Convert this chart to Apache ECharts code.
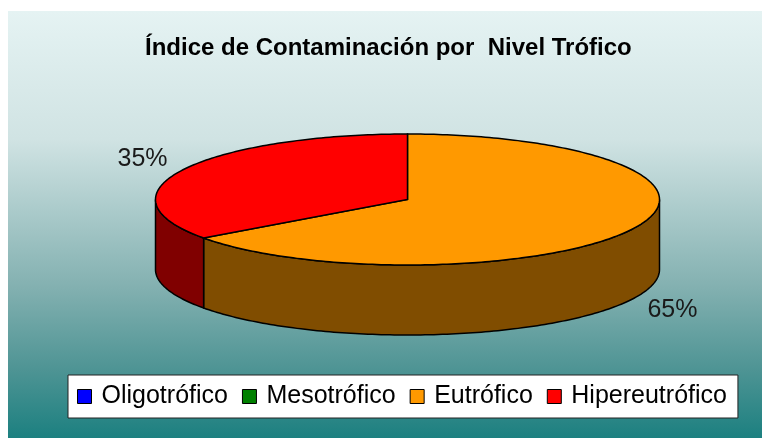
<!DOCTYPE html>
<html>
<head>
<meta charset="utf-8">
<script src="https://cdn.jsdelivr.net/npm/echarts@6/dist/echarts.min.js"></script>
<style>
  html, body { margin: 0; padding: 0; background: #fff; }
  #chart { width: 762px; height: 438px; }
</style>
</head>
<body>
<div id="chart"></div>
<script>
// datos del gráfico
const categories = ["Oligotrófico", "Mesotrófico", "Eutrófico", "Hipereutrófico"];
const values = [0, 0, 65, 35];
const topColors = ["#0000FF", "#008000", "#FF9900", "#FF0000"];
const sideColors = ["#000080", "#004000", "#804D00", "#800000"];
const titleText = "Índice de Contaminación por  Nivel Trófico";

// geometría del pastel 3D
const pie = { cx: 407.5, cy: 199.5, rx: 252, ry: 65.5, depth: 70 };

const total = values.reduce((a, b) => a + b, 0);

const point = (a, dy) => [
  pie.cx + pie.rx * Math.sin(a),
  pie.cy - pie.ry * Math.cos(a) + dy,
];

const arc = (a0, a1, dy) => {
  const pts = [];
  const n = Math.max(2, Math.ceil(((a1 - a0) * 180) / Math.PI));
  for (let i = 0; i <= n; i++) {
    pts.push(point(a0 + ((a1 - a0) * i) / n, dy));
  }
  return pts;
};

const renderSlice = (params, api) => {
  const idx = params.seriesIndex;
  const value = api.value(0);
  if (!value) return { type: "group", children: [] };

  const before = values.slice(0, idx).reduce((a, b) => a + b, 0);
  const a0 = (before / total) * Math.PI * 2;
  const a1 = ((before + value) / total) * Math.PI * 2;
  const children = [];

  // cara lateral visible (frente)
  const s = Math.max(a0, Math.PI / 2);
  const e = Math.min(a1, (Math.PI * 3) / 2);
  if (s < e) {
    const pts = arc(s, e, 0).concat(arc(s, e, pie.depth).reverse());
    children.push({
      type: "polygon",
      z2: 1,
      shape: { points: pts },
      style: { fill: sideColors[idx], stroke: "#000", lineWidth: 1.5 },
    });
  }

  // cara superior
  children.push({
    type: "polygon",
    z2: 10,
    shape: { points: [[pie.cx, pie.cy]].concat(arc(a0, a1, 0)) },
    style: { fill: topColors[idx], stroke: "#000", lineWidth: 1.5 },
  });

  // etiqueta de porcentaje
  const mid = (a0 + a1) / 2;
  const lx = pie.cx + pie.rx * 1.18 * Math.sin(mid);
  let ly = pie.cy - pie.ry * 1.35 * Math.cos(mid);
  if (Math.cos(mid) < 0) ly += pie.depth;
  children.push({
    type: "text",
    z2: 20,
    x: lx,
    y: ly,
    style: {
      text: Math.round((value / total) * 100) + "%",
      fill: "#1a1a1a",
      font: "25px 'Liberation Sans', Arial, sans-serif",
      align: "center",
      verticalAlign: "middle",
    },
  });

  return { type: "group", children };
};

const chart = echarts.init(document.getElementById("chart"), null, { renderer: "canvas" });

const option = {
  animation: false,
  backgroundColor: "#fff",
  graphic: {
    elements: [
      {
        type: "rect",
        z: -10,
        shape: { x: 8, y: 11, width: 754, height: 427 },
        style: {
          fill: new echarts.graphic.LinearGradient(0, 0, 0, 1, [
            { offset: 0, color: "#e5f3f3" },
            { offset: 0.3, color: "#d0e3e3" },
            { offset: 0.65, color: "#82b0b0" },
            { offset: 0.84, color: "#4e9494" },
            { offset: 1, color: "#1c8080" },
          ]),
        },
      },
    ],
  },
  title: {
    text: titleText,
    left: 145,
    top: 36,
    padding: 0,
    textStyle: {
      fontFamily: "'Liberation Sans', Arial, sans-serif",
      fontSize: 24,
      fontWeight: "bold",
      color: "#000",
    },
  },
  legend: {
    data: categories,
    left: 68,
    top: 375,
    orient: "horizontal",
    icon: "rect",
    itemWidth: 14,
    itemHeight: 14,
    itemGap: 14,
    padding: [9, 11, 9, 9],
    backgroundColor: "#fff",
    borderColor: "#222",
    borderWidth: 1,
    borderRadius: 0,
    itemStyle: { borderColor: "#000", borderWidth: 1 },
    textStyle: {
      fontFamily: "'Liberation Sans', Arial, sans-serif",
      fontSize: 25,
      color: "#000",
      padding: [0, 0, 0, 5],
    },
    selectedMode: false,
  },
  series: categories.map((name, i) => ({
    type: "custom",
    name: name,
    coordinateSystem: "none",
    itemStyle: { color: topColors[i] },
    renderItem: renderSlice,
    data: [[values[i]]],
    silent: true,
  })),
};

chart.setOption(option);
</script>
</body>
</html>
